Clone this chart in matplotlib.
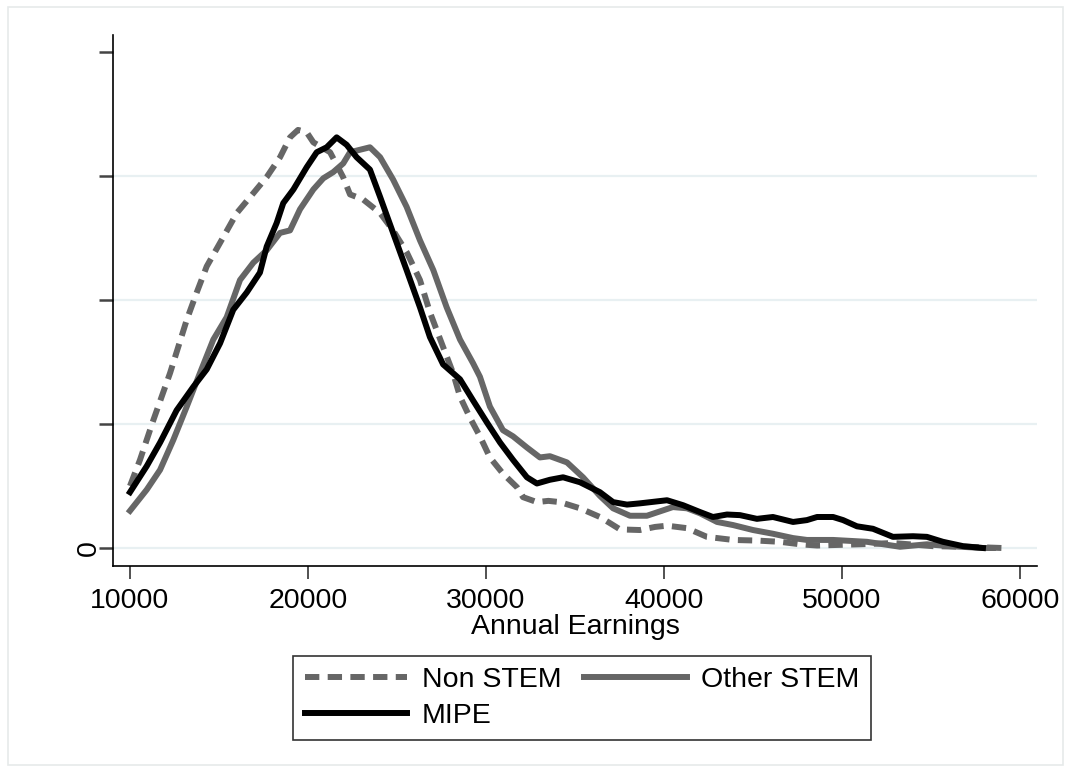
import matplotlib
matplotlib.use("Agg")
import matplotlib.pyplot as plt
from matplotlib.patches import Rectangle
import numpy as np

plt.rcParams['font.family'] = ['Liberation Sans', 'DejaVu Sans']

# kernel density estimates, density in units of 1e-5
nonstem_x = [10000, 10560, 11310, 12250, 13190, 13750, 14310, 15060, 16000, 16930,
             17680, 18430, 18990, 19440, 19930, 20300, 21240, 21970, 22360, 23090,
             24050, 24780, 25560, 26290, 26850, 27590, 28150, 28540, 29100, 29660,
             30220, 30950, 31740, 32080, 32860, 33500, 34160, 35280, 36400, 36970,
             37530, 38650, 39500, 40170, 41290, 42410, 43880, 45220, 46520, 47640,
             48600, 49800, 51000, 52880, 55100, 57000, 59000]
nonstem_d = [1.00, 1.42, 2.06, 2.82, 3.68, 4.12, 4.54, 4.92, 5.40, 5.72,
             5.98, 6.30, 6.62, 6.74, 6.70, 6.54, 6.38, 5.98, 5.70, 5.62,
             5.40, 5.12, 4.76, 4.32, 3.80, 3.24, 2.82, 2.44, 2.10, 1.80,
             1.46, 1.20, 0.98, 0.82, 0.74, 0.76, 0.74, 0.64, 0.50, 0.40,
             0.30, 0.29, 0.34, 0.36, 0.32, 0.18, 0.13, 0.12, 0.10, 0.06,
             0.04, 0.05, 0.06, 0.08, 0.03, 0.02, 0.00]

other_x = [10000, 10940, 11690, 12430, 13190, 13930, 14680, 15430, 16180, 16930,
           17680, 18430, 18990, 19550, 20300, 20860, 21420, 21980, 22360, 22920,
           23480, 24050, 24780, 25540, 26290, 27040, 27790, 28540, 29270, 29660,
           30220, 30950, 31520, 32300, 33030, 33590, 34550, 35450, 36400, 37140,
           38090, 39040, 40500, 41290, 42020, 42980, 43880, 45000, 46120, 47250,
           48030, 49500, 51400, 53260, 54770, 56070, 57920, 58480]
other_d = [0.60, 0.94, 1.26, 1.74, 2.28, 2.82, 3.36, 3.72, 4.32, 4.60,
           4.80, 5.08, 5.12, 5.46, 5.78, 5.96, 6.06, 6.20, 6.38, 6.42,
           6.46, 6.30, 5.94, 5.50, 4.96, 4.48, 3.88, 3.36, 2.98, 2.76,
           2.28, 1.90, 1.80, 1.62, 1.46, 1.48, 1.38, 1.14, 0.84, 0.64,
           0.52, 0.52, 0.66, 0.64, 0.56, 0.42, 0.37, 0.29, 0.23, 0.16,
           0.13, 0.13, 0.10, 0.02, 0.06, 0.03, 0.00, 0.00]

mipe_x = [10000, 10940, 11690, 12620, 13560, 14310, 15060, 15800, 16560, 17300,
          17680, 18240, 18610, 19180, 19930, 20490, 21050, 21610, 22170, 22730,
          23480, 24050, 24780, 25540, 26290, 26850, 27590, 28540, 29270, 30060,
          30790, 31520, 32300, 32860, 33590, 34330, 35280, 36400, 37140, 37920,
          38650, 40170, 41070, 42020, 42750, 43540, 44270, 45220, 46120, 47250,
          48030, 48600, 49500, 50060, 50840, 51740, 52860, 53990, 54770, 55670,
          56800, 57920]
mipe_d = [0.90, 1.32, 1.70, 2.22, 2.60, 2.88, 3.30, 3.84, 4.12, 4.44,
          4.86, 5.24, 5.56, 5.78, 6.14, 6.38, 6.46, 6.62, 6.50, 6.30,
          6.10, 5.66, 5.08, 4.48, 3.88, 3.40, 2.96, 2.72, 2.38, 2.02,
          1.70, 1.42, 1.14, 1.04, 1.10, 1.14, 1.06, 0.90, 0.74, 0.70,
          0.72, 0.77, 0.69, 0.58, 0.50, 0.54, 0.53, 0.47, 0.50, 0.42,
          0.45, 0.50, 0.50, 0.45, 0.35, 0.31, 0.18, 0.19, 0.18, 0.10,
          0.03, 0.00]

xticks = [10000, 20000, 30000, 40000, 50000, 60000]
yticks = [0, 2e-5, 4e-5, 6e-5, 8e-5]
gris = '#666666'
fs = 20.5

fig = plt.figure(figsize=(10.68, 7.72), dpi=100)
fig.patches.append(Rectangle((8/1068, 7/772), 1055/1068, 758/772, transform=fig.transFigure,
                             fill=False, edgecolor='#e6eaea', linewidth=1.2))
ax = fig.add_axes([113/1068, 1 - 566/772, 924/1068, 531/772])

# lineas de la grilla horizontal (sin la del tope)
for yv in yticks[:-1]:
    ax.axhline(yv, color='#e8f0f2', linewidth=1.6, zorder=0)

escala = 1e-5
l1, = ax.plot(nonstem_x, np.array(nonstem_d) * escala, color=gris, linewidth=4.3,
              dashes=(2.4, 1.4), label='Non STEM')
l2, = ax.plot(other_x, np.array(other_d) * escala, color=gris, linewidth=4.3, label='Other STEM')
l3, = ax.plot(mipe_x, np.array(mipe_d) * escala, color='black', linewidth=4.3, label='MIPE')

ax.set_xlim(9045, 60955)
ax.set_ylim(-0.29e-5, 8.27e-5)
ax.set_xticks(xticks)
ax.set_xticklabels([str(t) for t in xticks], fontsize=fs)
ax.set_yticks(yticks)
ax.set_yticklabels(['0', '', '', '', ''], fontsize=fs, rotation=90, va='center')
ax.tick_params(axis='x', length=9, width=1.2, color='#333333', pad=7)
ax.tick_params(axis='y', length=10, width=1.8, color='#444444', pad=-2)
ax.spines['top'].set_visible(False)
ax.spines['right'].set_visible(False)
ax.spines['left'].set_linewidth(1.2)
ax.spines['bottom'].set_linewidth(1.2)
ax.set_xlabel('Annual Earnings', fontsize=fs, labelpad=0)

leg = fig.legend([l1, l3, l2], ['Non STEM', 'MIPE', 'Other STEM'], ncol=2,
                 loc='center', bbox_to_anchor=(582/1068, 1 - 698/772),
                 fontsize=fs, frameon=True, fancybox=False, handlelength=3.6,
                 handletextpad=0.5, columnspacing=0.8, labelspacing=0.35,
                 borderpad=0.4, borderaxespad=0)
leg.get_frame().set_edgecolor('black')
leg.get_frame().set_linewidth(1.2)

fig.savefig('out.png', dpi=100)
